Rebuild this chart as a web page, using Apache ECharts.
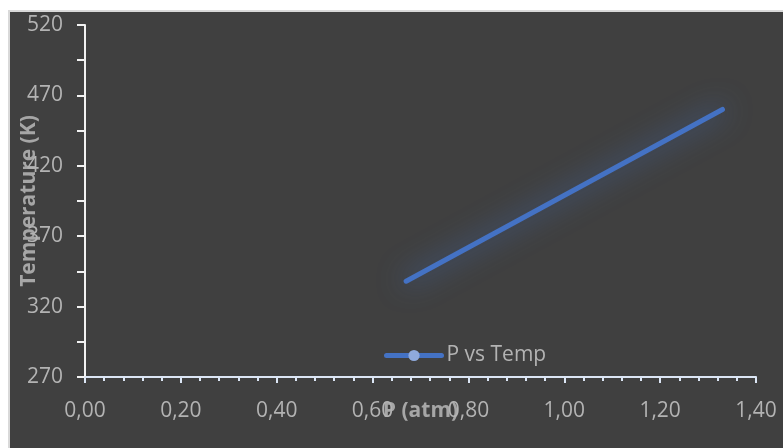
<!DOCTYPE html>
<html>
<head>
<meta charset="utf-8">
<script src="https://cdn.jsdelivr.net/npm/echarts@6/dist/echarts.min.js"></script>
<style>
  html, body { margin: 0; padding: 0; background: #ffffff; }
  #frame { position: absolute; left: 8px; top: 10px; width: 800px; height: 460px;
           background: #404040; border-left: 2px solid #d9d9d9; border-top: 2px solid #d9d9d9; }
  #main { position: absolute; left: 0; top: 0; width: 783px; height: 448px; }
</style>
</head>
<body>
<div id="frame"></div>
<div id="main"></div>
<script>
// pressure (atm) and temperature (K)
const pressure = [0.67, 1.33]
const temperature = [338, 460]
const seriesName = 'P vs Temp'

const yLabels = [270, 320, 370, 420, 470, 520]
const yTicks = [270, 295, 320, 345, 370, 395, 420, 445, 470, 495, 520]

let myChart = echarts.init(document.getElementById('main'))

let labelColor = '#b3b3b3'
let fontFamily = '"Open Sans", "Noto Sans", sans-serif'

let option = {
  backgroundColor: 'transparent',
  textStyle: { fontFamily: fontFamily },
  grid: { left: 85, right: 27, top: 25, bottom: 71, outerBoundsMode: 'none' },
  legend: {
    data: [seriesName],
    left: 379,
    top: 340,
    padding: 5,
    itemWidth: 55,
    itemHeight: 14,
    lineStyle: { width: 5, color: '#4472c4' },
    textStyle: { color: labelColor, fontSize: 21, fontFamily: fontFamily }
  },
  xAxis: {
    type: 'value',
    min: 0,
    max: 1.4,
    interval: 0.2,
    name: 'P (atm)',
    nameLocation: 'middle',
    nameGap: 24,
    nameMoveOverlap: false,
    nameTextStyle: { color: '#a6a6a6', fontSize: 21, fontWeight: 'bold', fontFamily: fontFamily },
    axisLine: { show: true, lineStyle: { color: '#dce6f5', width: 2 } },
    axisTick: { show: true, length: 6, lineStyle: { color: '#dce6f5', width: 2 } },
    minorTick: { show: true, splitNumber: 5, length: 4, lineStyle: { color: '#dce6f5', width: 2 } },
    axisLabel: {
      color: labelColor, fontSize: 21, margin: 24,
      formatter: v => v.toFixed(2).replace('.', ',')
    },
    splitLine: { show: false }
  },
  yAxis: {
    type: 'value',
    min: 270,
    max: 520,
    name: 'Temperature (K)',
    nameLocation: 'middle',
    nameGap: 45,
    nameMoveOverlap: false,
    nameTextStyle: { color: '#a6a6a6', fontSize: 21, fontWeight: 'bold', fontFamily: fontFamily },
    axisLine: { show: true, lineStyle: { color: '#f2f2f2', width: 2 } },
    axisTick: { show: true, length: 8, customValues: yTicks, lineStyle: { color: '#f2f2f2', width: 2 } },
    axisLabel: { color: labelColor, fontSize: 21, margin: 22, customValues: yLabels },
    splitLine: { show: false }
  },
  series: [
    {
      name: seriesName,
      type: 'line',
      data: pressure.map((p, i) => [p, temperature[i]]),
      showSymbol: false,
      symbol: 'circle',
      symbolSize: 9,
      itemStyle: { color: '#8faadc' },
      lineStyle: {
        color: '#4472c4',
        width: 5,
        cap: 'round',
        shadowBlur: 28,
        shadowColor: 'rgba(68, 114, 196, 0.9)'
      }
    }
  ]
}

myChart.setOption(option, true)
</script>
</body>
</html>
